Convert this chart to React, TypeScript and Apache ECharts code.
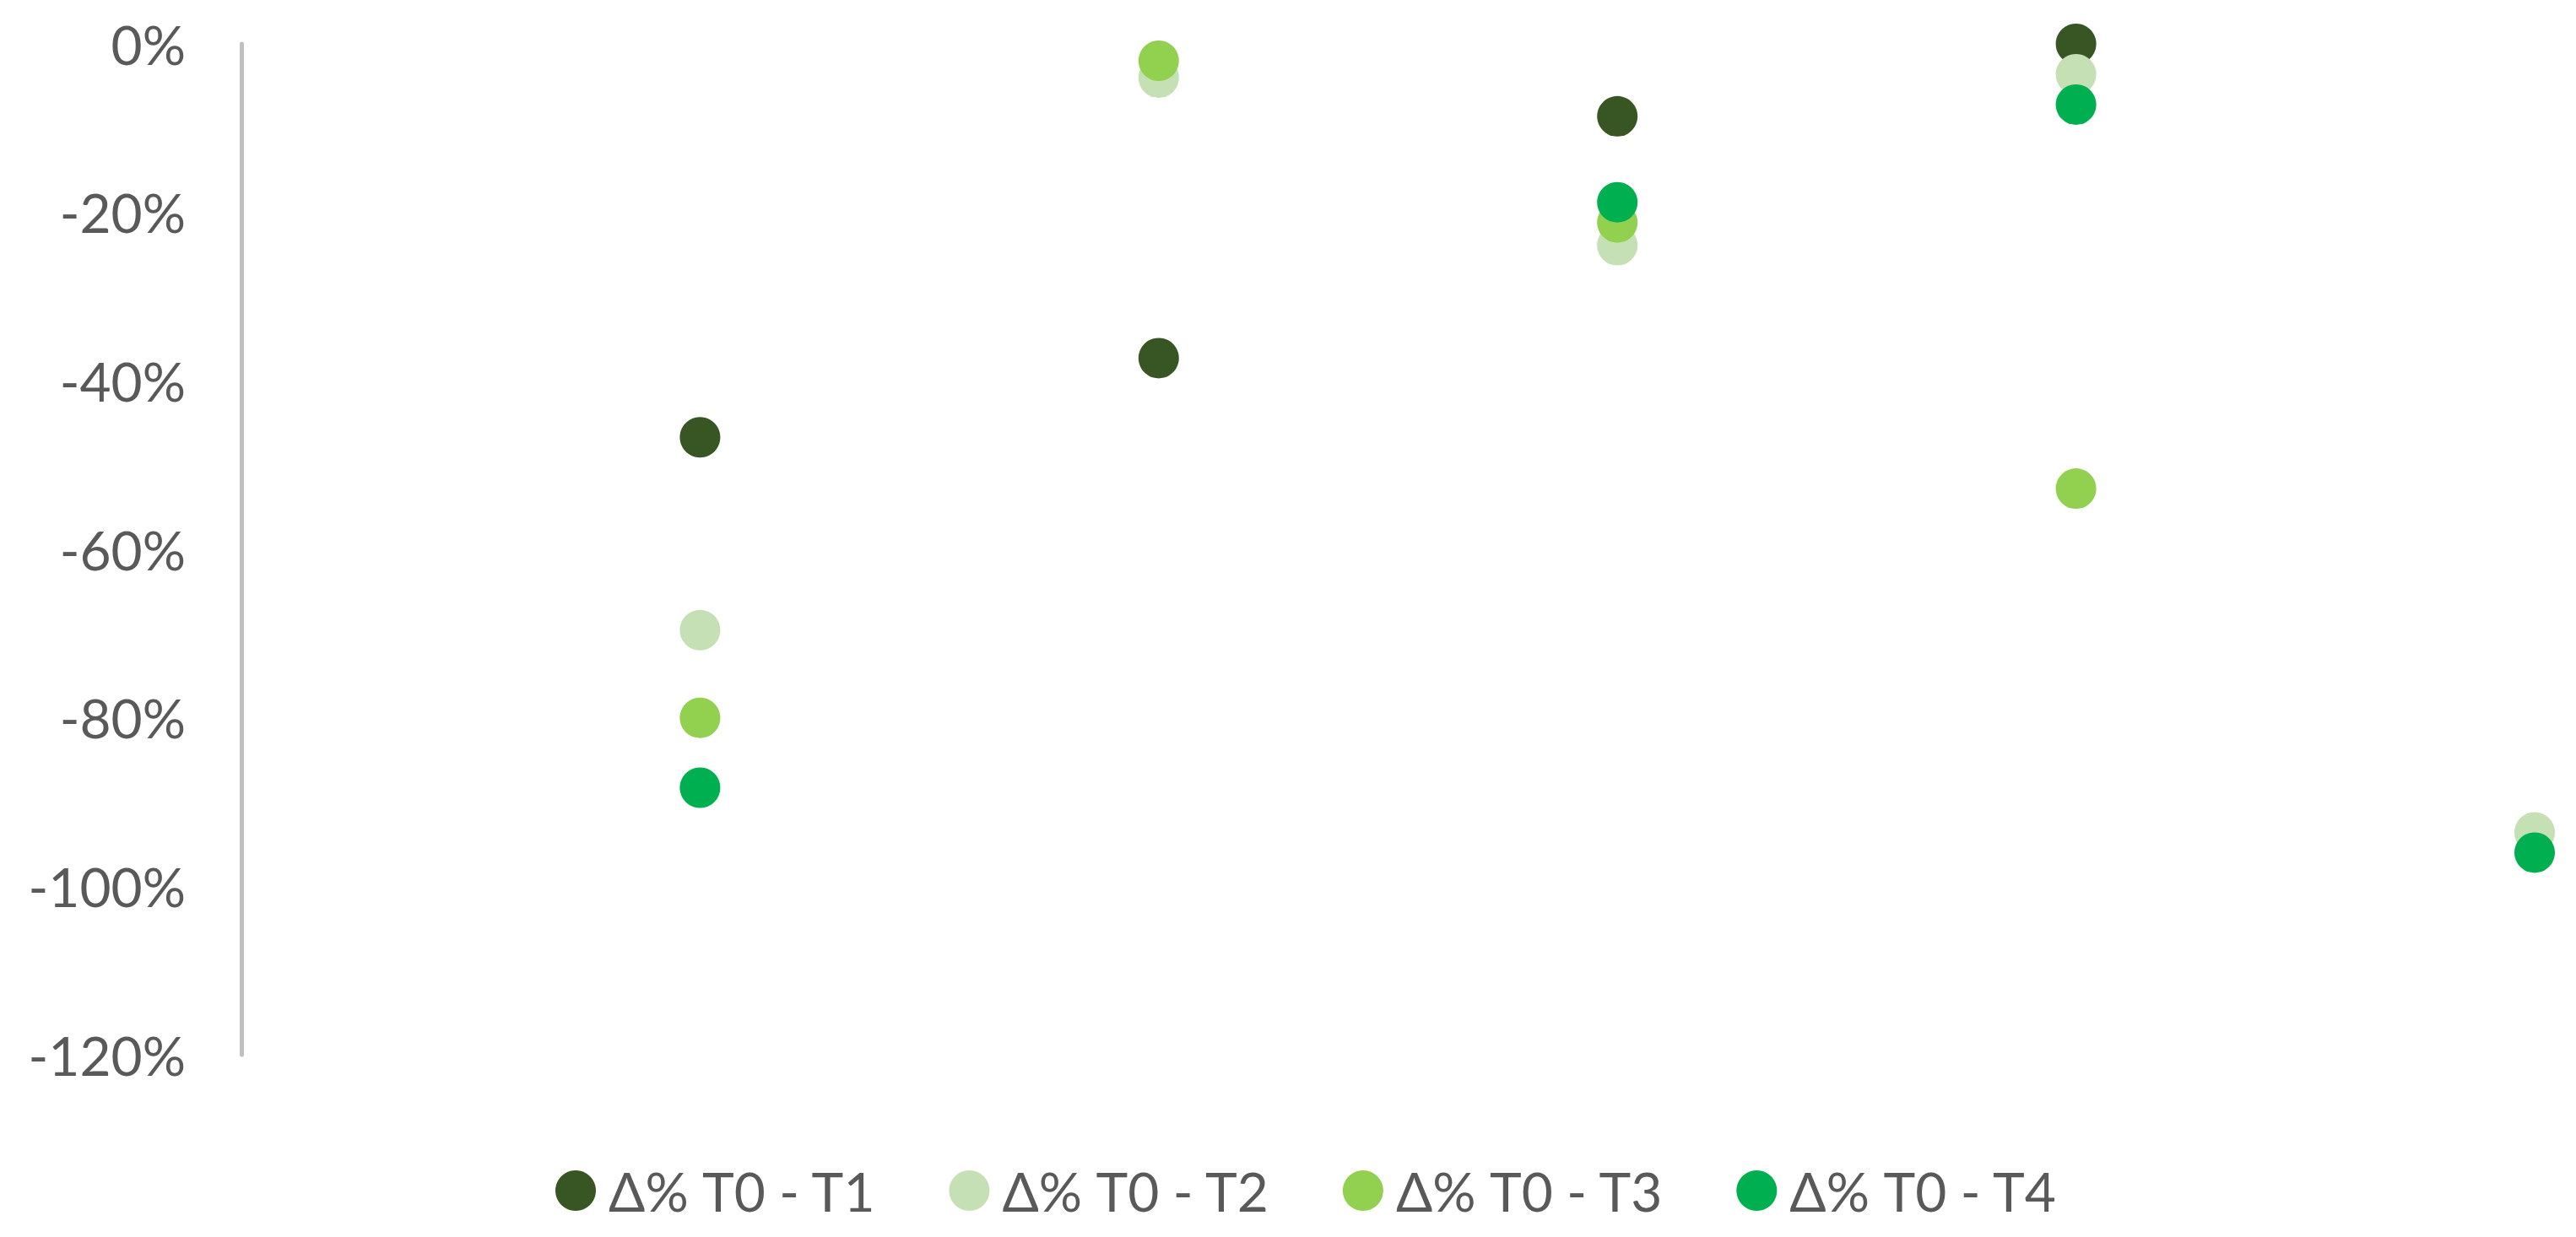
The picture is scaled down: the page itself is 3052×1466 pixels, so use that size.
import React, { useEffect, useRef } from "react";
import * as echarts from "echarts";

const xPositions = [1, 2, 3, 4, 5];
const seriesNames = ["Δ% T0 - T1", "Δ% T0 - T2", "Δ% T0 - T3", "Δ% T0 - T4"];
const seriesColors = ["#375623", "#C5E0B4", "#92D050", "#00B050"];
const t1Values: (number | null)[] = [-46.7, -37.3, -8.6, 0, null];
const t2Values: (number | null)[] = [-69.6, -4.0, -23.9, -3.6, -93.6];
const t3Values: (number | null)[] = [-80.0, -2.0, -21.2, -52.8, null];
const t4Values: (number | null)[] = [-88.3, null, -18.8, -7.2, -96.0];
const yMin = -120;
const yMax = 0;
const yStep = 20;

const allValues = [t1Values, t2Values, t3Values, t4Values];

export default function App() {
  const ref = useRef<HTMLDivElement>(null);
  useEffect(() => {
    if (!ref.current) return;
    const chart = echarts.init(ref.current, null, { renderer: "svg" });
    const font = "Lato";
    chart.setOption({
      animation: false,
      backgroundColor: "#ffffff",
      grid: { left: 286, right: 49, top: 52, bottom: 216, containLabel: false },
      xAxis: { type: "value", min: 0, max: 5, show: false },
      yAxis: {
        type: "value",
        min: yMin,
        max: yMax,
        interval: yStep,
        axisLine: { show: true, onZero: false, lineStyle: { color: "#BFBFBF", width: 5 } },
        axisTick: { show: false },
        splitLine: { show: false },
        axisLabel: {
          formatter: (v: number) => `${Math.round(v)}%`,
          color: "#595959",
          fontSize: 64,
          fontFamily: font,
          margin: 66,
        },
      },
      legend: {
        left: 653,
        top: 1374,
        icon: "circle",
        itemWidth: 48,
        itemHeight: 48,
        itemGap: 86,
        textStyle: { color: "#595959", fontSize: 64, fontFamily: font, padding: [0, 0, 0, 10] },
        data: seriesNames,
      },
      series: seriesNames.map((name, i) => ({
        name,
        type: "scatter",
        symbol: "circle",
        symbolSize: 48,
        clip: false,
        itemStyle: { color: seriesColors[i], opacity: 1 },
        data: xPositions
          .map((x, j) => [x, allValues[i][j]])
          .filter((p) => p[1] !== null),
      })),
    });
    return () => chart.dispose();
  }, []);
  return (
    <div
      ref={ref}
      style={{ position: "fixed", left: 0, top: 0, width: 3052, height: 1466 }}
    />
  );
}
